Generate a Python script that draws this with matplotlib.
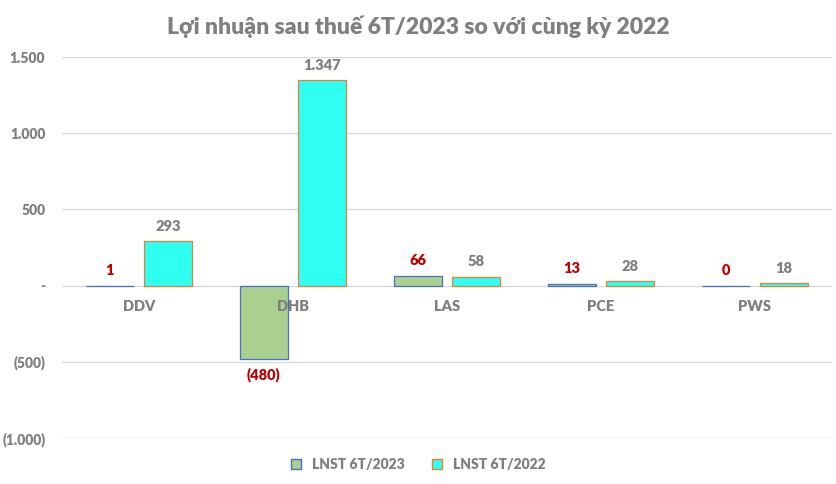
import numpy as np
import matplotlib
matplotlib.use("Agg")
import matplotlib.pyplot as plt
from matplotlib.patches import Patch

# dữ liệu
categories = ["DDV", "DHB", "LAS", "PCE", "PWS"]
lnst_2023 = [1, -480, 66, 13, 0]
lnst_2022 = [293, 1347, 58, 28, 18]
labels_2023 = ["1", "(480)", "66", "13", "0"]
labels_2022 = ["293", "1.347", "58", "28", "18"]
yticks = [-1000, -500, 0, 500, 1000, 1500]
ytick_labels = ["(1.000)", "(500)", "-", "500", "1.000", "1.500"]

plt.rcParams["font.family"] = ["Lato", "DejaVu Sans"]
GRAY = "#7f7f7f"
RED = "#c00000"
WT = "heavy"

fig = plt.figure(figsize=(8.37, 4.84), dpi=100)
ax = fig.add_axes([0.074, 0.095, 0.92, 0.787])

x = np.arange(len(categories))
w = 0.31
off = 0.19
ax.bar(x - off, lnst_2023, w, color="#a9d08e", edgecolor="#4472c4", linewidth=0.9, zorder=3)
ax.bar(x + off, lnst_2022, w, color="#2efff0", edgecolor="#ed7d31", linewidth=0.9, zorder=3)

for i in range(len(categories)):
    v = lnst_2023[i]
    if v >= 0:
        ax.annotate(labels_2023[i], (x[i] - off, v), xytext=(0, 6), textcoords="offset points",
                    ha="center", va="bottom", color=RED, fontsize=10.5, fontweight=WT)
    else:
        ax.annotate(labels_2023[i], (x[i] - off, v), xytext=(0, -6), textcoords="offset points",
                    ha="center", va="top", color=RED, fontsize=10.5, fontweight=WT)
    ax.annotate(labels_2022[i], (x[i] + off, lnst_2022[i]), xytext=(0, 6), textcoords="offset points",
                ha="center", va="bottom", color=GRAY, fontsize=10.5, fontweight=WT)
    # nhãn danh mục ngay dưới trục 0
    ax.annotate(categories[i], (x[i], 0), xytext=(0, -10), textcoords="offset points",
                ha="center", va="top", color=GRAY, fontsize=10.5, fontweight=WT)

ax.set_xlim(-0.5, len(categories) - 0.5)
ax.set_ylim(-1000, 1500)
ax.set_yticks(yticks)
ax.set_yticklabels(ytick_labels, color=GRAY, fontsize=10, fontweight=WT)
ax.set_xticks([])
ax.tick_params(axis="y", length=0, pad=12)
ax.grid(axis="y", color="#d9d9d9", linewidth=1, zorder=0)
for s in ax.spines.values():
    s.set_visible(False)

fig.text(0.5, 0.945, "Lợi nhuận sau thuế 6T/2023 so với cùng kỳ 2022", ha="center", va="center",
         color=GRAY, fontsize=16.5, fontweight=WT)

handles = [Patch(facecolor="#a9d08e", edgecolor="#4472c4"),
           Patch(facecolor="#2efff0", edgecolor="#ed7d31")]
leg = fig.legend(handles, ["LNST 6T/2023", "LNST 6T/2022"], loc="center", bbox_to_anchor=(0.5, 0.04),
                 ncol=2, frameon=False, handlelength=0.7, handleheight=0.7, columnspacing=2,
                 prop={"weight": WT, "size": 10})
for t in leg.get_texts():
    t.set_color(GRAY)

fig.savefig("out.png", dpi=100)
